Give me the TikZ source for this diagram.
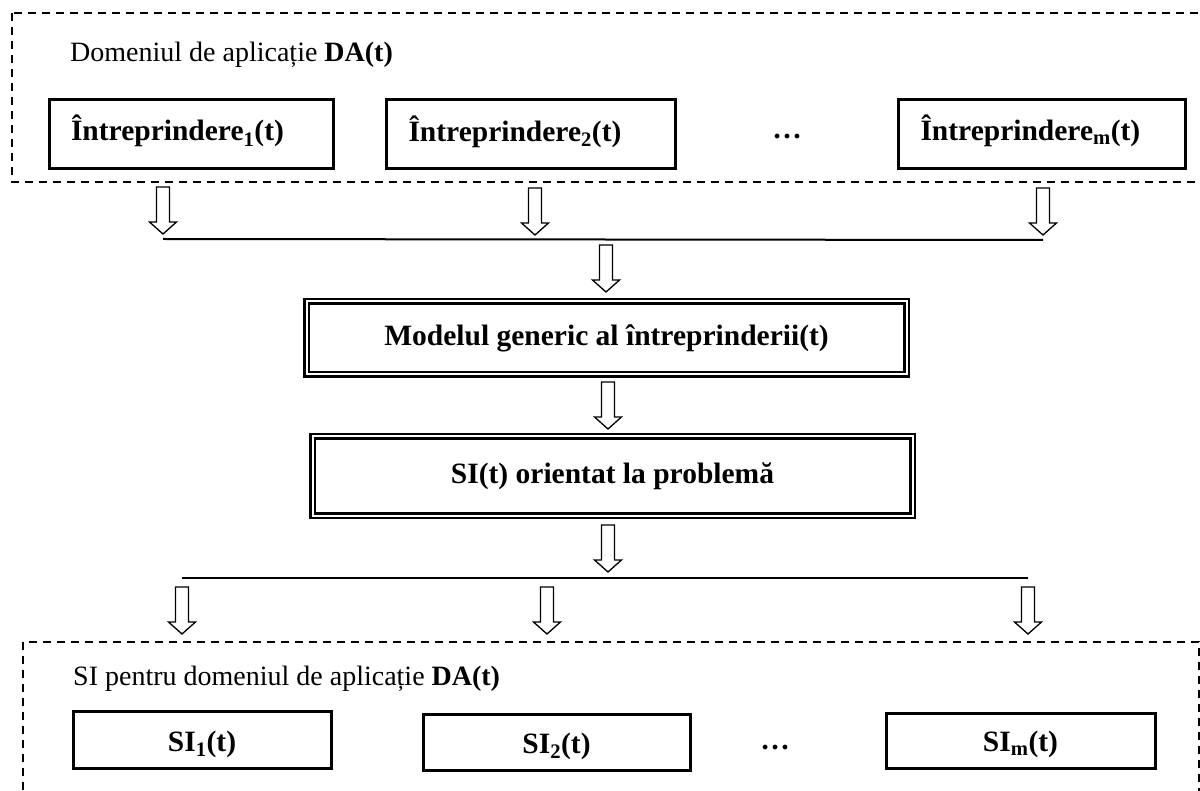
\documentclass[tikz,border=0pt]{standalone}
\usepackage{fontspec}
\setmainfont{Liberation Serif}
\usepackage{tikz}

\newcommand{\boldtxt}{\fontsize{29.5}{34}\selectfont\bfseries}

\tikzset{
  firm/.style={draw, line width=3pt, inner xsep=22pt, text width=#1, align=left, text height=21pt, text depth=7pt, minimum height=69pt, font=\boldtxt},
  sibox/.style={draw, line width=3pt, minimum width=#1, text height=22pt, text depth=0pt, font=\boldtxt},
  dblbox/.style={draw, double, double distance=2pt, line width=2.2pt, minimum width=600pt, font=\boldtxt},
  zone/.style={dash pattern=on 8pt off 6pt, line width=1.5pt},
  link/.style={line width=2pt},
  pics/blockarrow/.style={code={
    \draw[line width=1.3pt, fill=white] (-6.5,0) -- (6.5,0) -- (6.5,35) -- (13.5,35) -- (0,47) -- (-13.5,35) -- (-6.5,35) -- cycle;
    \coordinate (-top) at (0,0);
    \coordinate (-tip) at (0,47);
  }}
}

\begin{document}
\fontsize{28}{33}\selectfont
\begin{tikzpicture}[x=1pt, y=-1pt]
\useasboundingbox (0,0) rectangle (1200,791);
\clip (0,0) rectangle (1200,791);

\draw[zone] (12,13) rectangle (1220,182);
\node[anchor=base west, inner sep=0pt] (dom) at (70,62) {Domeniul de aplicație \textbf{DA(t)}};
\node[firm=240pt] (f1) at (191,134) {Întreprindere\textsubscript{1}(t)};
\node[firm=245pt] (f2) at (531,134.5) {Întreprindere\textsubscript{2}(t)};
\node[anchor=base, inner sep=0pt, font=\boldtxt] (dots1) at (787,139) {…};
\node[firm=243pt] (fm) at (1042,134) {Întreprindere\textsubscript{m}(t)};

\pic (a1) at (163,187) {blockarrow};
\pic (a2) at (535,188) {blockarrow};
\pic (a3) at (1043,188) {blockarrow};
\draw[link] ([yshift=-5pt]a1-tip) -- ([yshift=-5pt]a3-tip);
\pic (a4) at (606,245) {blockarrow};

\node[dblbox, minimum height=73pt] (gen) at (606.5,338) {Modelul generic al întreprinderii(t)};
\pic (a5) at (608,382) {blockarrow};
\node[dblbox, minimum height=79pt] (sip) at (612.5,476) {SI(t) orientat la problemă};
\pic (a6) at (608,525) {blockarrow};

\pic (a7) at (182,587) {blockarrow};
\pic (a8) at (547,587) {blockarrow};
\pic (a9) at (1028,587) {blockarrow};
\draw[link] ([yshift=-6pt]a6-tip -| a7-top) -- ([yshift=-6pt]a6-tip -| a9-top);

\draw[zone] (23,642) rectangle (1199,810);
\node[anchor=base west, inner sep=0pt] (sidom) at (73,685) {SI pentru domeniul de aplicație \textbf{DA(t)}};
\node[sibox=258pt, minimum height=57pt] (s1) at (202,740) {SI\textsubscript{1}(t)};
\node[sibox=267pt, minimum height=56pt] (s2) at (556.5,742) {SI\textsubscript{2}(t)};
\node[anchor=base, inner sep=0pt, font=\boldtxt] (dots2) at (775,749) {…};
\node[sibox=269pt, minimum height=55pt] (sm) at (1020.5,740.5) {SI\textsubscript{m}(t)};
\end{tikzpicture}
\end{document}
